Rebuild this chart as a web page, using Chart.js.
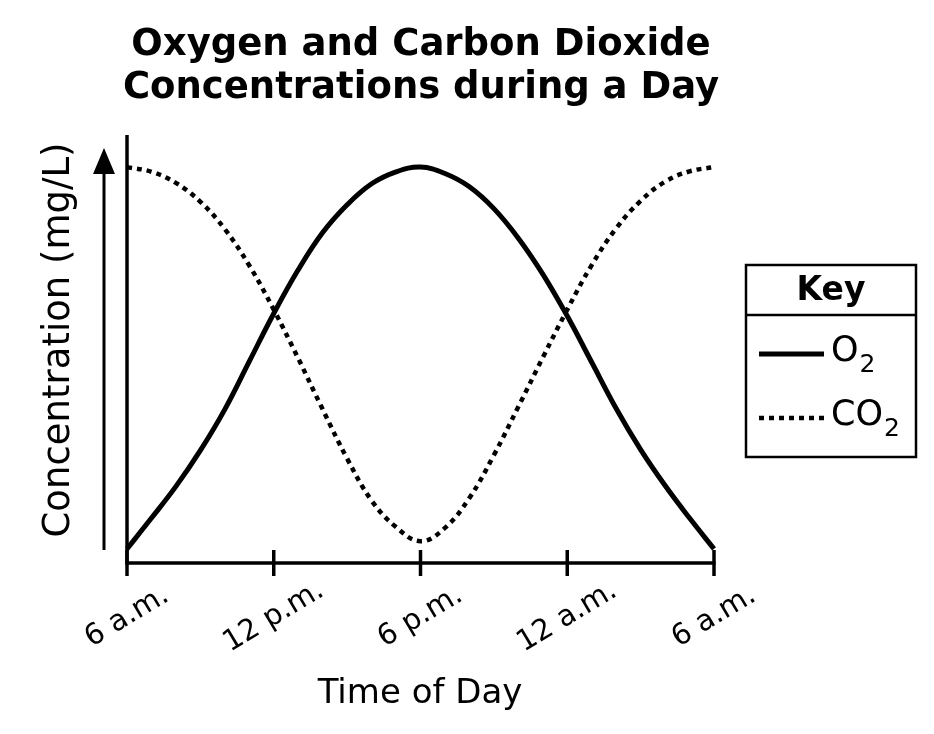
<!DOCTYPE html>
<html><head><meta charset="utf-8">
<script src="https://cdn.jsdelivr.net/npm/chart.js@4.4.1/dist/chart.umd.min.js"></script>
<style>html,body{margin:0;padding:0;background:#fff;}#wrap{width:934px;height:734px;}</style>
</head><body><div id="wrap"><canvas id="c" width="934" height="734"></canvas></div>
<script>
// ---- data ----
const hours = [0,1,2,3,4,5,6,7,8,9,10,11,12,13,14,15,16,17,18,19,20,21,22,23,24];
const o2  = [0.33,1.05,1.79,2.63,3.59,4.71,5.83,6.85,7.72,8.37,8.86,9.14,9.25,9.10,8.79,8.28,7.59,6.75,5.77,4.69,3.61,2.65,1.81,1.05,0.33];
const co2 = [9.25,9.14,8.88,8.44,7.80,6.95,5.92,4.78,3.59,2.44,1.46,0.84,0.51,0.82,1.52,2.52,3.65,4.80,5.92,6.96,7.82,8.46,8.91,9.15,9.25];
const tickHours = [0,6,12,18,24];
const tickLabels = ['6 a.m.','12 p.m.','6 p.m.','12 a.m.','6 a.m.'];
const titleLines = ['Oxygen and Carbon Dioxide','Concentrations during a Day'];
const xTitle = 'Time of Day';
const yTitle = 'Concentration (mg/L)';
const seriesNames = ['O','CO'];
const keyTitle = 'Key';

const FONT = '"DejaVu Sans", Verdana, sans-serif';

const decor = {
  id: 'decor',
  afterDraw(chart) {
    const ctx = chart.ctx;
    const xs = chart.scales.x, ys = chart.scales.y;
    const x0 = xs.getPixelForValue(0), x1 = xs.getPixelForValue(24);
    const yb = ys.getPixelForValue(0), yt = ys.getPixelForValue(10);
    ctx.save();
    ctx.fillStyle = '#000'; ctx.strokeStyle = '#000';
    // title
    ctx.font = 'bold 37px ' + FONT;
    ctx.textAlign = 'center'; ctx.textBaseline = 'middle';
    ctx.fillText(titleLines[0], 421, 45);
    ctx.fillText(titleLines[1], 421, 88);
    // axes
    ctx.lineWidth = 3.5; ctx.lineCap = 'butt';
    ctx.beginPath(); ctx.moveTo(x0, yt); ctx.lineTo(x0, yb + 1.5); ctx.stroke();
    ctx.beginPath(); ctx.moveTo(x0 - 1.5, yb); ctx.lineTo(x1 + 1.5, yb); ctx.stroke();
    tickHours.forEach((h, i) => {
      const px = xs.getPixelForValue(h);
      ctx.beginPath(); ctx.moveTo(px, yb - 13); ctx.lineTo(px, yb + 13); ctx.stroke();
      ctx.save();
      ctx.translate(px, yb + 54);
      ctx.rotate(-31 * Math.PI / 180);
      ctx.font = '29px ' + FONT;
      ctx.textAlign = 'center'; ctx.textBaseline = 'middle';
      ctx.fillText(tickLabels[i], 0, 0);
      ctx.restore();
    });
    // arrow
    const ax = x0 - 23;
    ctx.lineWidth = 3;
    ctx.beginPath(); ctx.moveTo(ax, yb - 13); ctx.lineTo(ax, yt + 35); ctx.stroke();
    ctx.beginPath(); ctx.moveTo(ax, yt + 13); ctx.lineTo(ax - 11, yt + 39); ctx.lineTo(ax + 11, yt + 39); ctx.closePath(); ctx.fill();
    // axis titles
    ctx.font = '34px ' + FONT;
    ctx.textAlign = 'center'; ctx.textBaseline = 'middle';
    ctx.fillText(xTitle, 420, 694);
    ctx.save();
    ctx.translate(59, 340); ctx.rotate(-Math.PI / 2);
    ctx.font = '37px ' + FONT;
    ctx.fillText(yTitle, 0, 0);
    ctx.restore();
    // key box
    ctx.lineWidth = 2.5;
    ctx.strokeRect(746, 265, 170, 192);
    ctx.beginPath(); ctx.moveTo(746, 315); ctx.lineTo(916, 315); ctx.stroke();
    ctx.font = 'bold 33px ' + FONT;
    ctx.fillText(keyTitle, 831, 291);
    const rows = [354, 418];
    chart.data.datasets.forEach((ds, i) => {
      const y = rows[i];
      ctx.save();
      ctx.lineWidth = ds.borderWidth;
      ctx.setLineDash(ds.borderDash || []);
      ctx.beginPath(); ctx.moveTo(759, y); ctx.lineTo(824, y); ctx.stroke();
      ctx.restore();
      ctx.font = '35px ' + FONT;
      ctx.textAlign = 'left'; ctx.textBaseline = 'middle';
      ctx.fillText(seriesNames[i], 831, y - 2);
      const w = ctx.measureText(seriesNames[i]).width;
      ctx.font = '25px ' + FONT;
      ctx.fillText('2', 831 + w + 1, y + 11);
    });
    ctx.restore();
  }
};

new Chart(document.getElementById('c'), {
  type: 'line',
  data: {
    datasets: [
      { label: 'O2', data: hours.map((h, i) => ({x: h, y: o2[i]})), borderColor: '#000', borderWidth: 5, pointRadius: 0, tension: 0.4, fill: false },
      { label: 'CO2', data: hours.map((h, i) => ({x: h, y: co2[i]})), borderColor: '#000', borderWidth: 4.5, borderDash: [5, 5], pointRadius: 0, tension: 0.4, fill: false }
    ]
  },
  options: {
    responsive: false,
    animation: false,
    devicePixelRatio: 1,
    layout: { padding: { left: 127, right: 220, top: 135, bottom: 171 } },
    scales: {
      x: { type: 'linear', min: 0, max: 24, display: false },
      y: { min: 0, max: 10, display: false }
    },
    plugins: { legend: { display: false }, tooltip: { enabled: false }, title: { display: false } },
    elements: { line: { borderCapStyle: 'butt' } },
    clip: false
  },
  plugins: [decor]
});
</script>
</body></html>
